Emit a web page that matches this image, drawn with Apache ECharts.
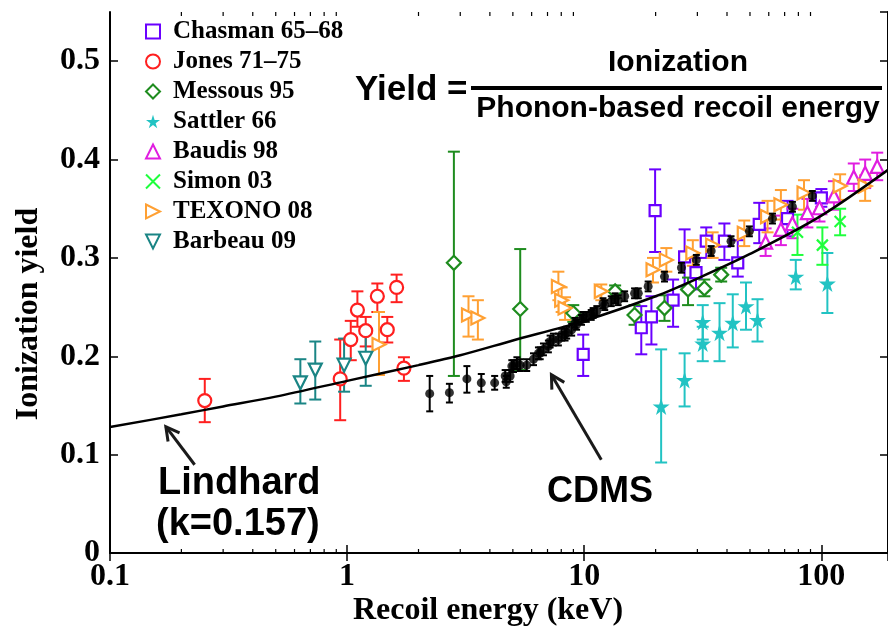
<!DOCTYPE html>
<html><head><meta charset="utf-8">
<script src="https://cdn.jsdelivr.net/npm/echarts@6/dist/echarts.min.js"></script>
<style>html,body{margin:0;padding:0;background:#fff}#c{width:888px;height:634px}</style>
</head><body><div id="c"></div>
<script>
// rows: [recoil energy keV, yield, error low, error high]
const chasman = [[9.90,0.202,0.180,0.222],[17.4,0.229,0.202,0.251],[19.2,0.240,0.212,0.261],[19.9,0.348,0.306,0.390],[23.7,0.257,0.230,0.278],[26.5,0.301,0.271,0.329],[29.6,0.285,0.268,0.300],[32.7,0.317,0.300,0.331],[39.0,0.317,0.298,0.335],[44.4,0.295,0.281,0.318],[54.7,0.334,0.315,0.356],[72.0,0.340,0.322,0.358],[100,0.361,0.352,0.370]];
const jones = [[0.251,0.155,0.133,0.177],[0.935,0.177,0.135,0.217],[1.036,0.217,0.196,0.236],[1.105,0.247,0.230,0.266],[1.198,0.226,0.210,0.240],[1.341,0.261,0.245,0.274],[1.477,0.227,0.214,0.240],[1.617,0.270,0.255,0.283],[1.736,0.188,0.175,0.199]];
const messous = [[2.82,0.295,0.180,0.408],[5.37,0.248,0.186,0.309],[8.99,0.244,0.235,0.252],[13.5,0.266,0.259,0.272],[16.3,0.242,0.232,0.252],[21.8,0.249,0.236,0.262],[27.4,0.268,0.252,0.280],[32.1,0.269,0.261,0.278],[37.8,0.283,0.276,0.290]];
const sattler = [[21.1,0.149,0.092,0.207],[26.5,0.176,0.149,0.203],[31.6,0.235,0.217,0.252],[31.6,0.213,0.195,0.230],[37.2,0.224,0.195,0.254],[42.3,0.234,0.209,0.263],[48.1,0.251,0.227,0.275],[53.8,0.237,0.215,0.258],[78.0,0.281,0.268,0.298],[106,0.274,0.244,0.305]];
const baudis = [[58.2,0.316,0.302,0.330],[67.5,0.329,0.313,0.343],[75.5,0.335,0.320,0.350],[87.3,0.346,0.331,0.360],[98.2,0.351,0.337,0.366],[113,0.363,0.349,0.378],[137,0.382,0.368,0.396],[153,0.386,0.371,0.400],[172,0.393,0.379,0.407]];
const simon = [[79.3,0.326,0.303,0.344],[101,0.313,0.293,0.331],[120,0.337,0.323,0.350]];
const texono = [[1.363,0.212,0.181,0.245],[3.25,0.242,0.220,0.261],[3.56,0.239,0.217,0.257],[7.78,0.271,0.257,0.286],[8.03,0.257,0.245,0.270],[8.30,0.249,0.237,0.260],[11.8,0.266,0.257,0.273],[19.5,0.288,0.275,0.300],[22.2,0.298,0.286,0.310],[28.7,0.305,0.292,0.318],[34.8,0.313,0.300,0.326],[47.3,0.325,0.312,0.338],[59.3,0.342,0.326,0.358],[67.5,0.354,0.339,0.369],[84.5,0.366,0.349,0.379],[120,0.373,0.359,0.385],[153,0.373,0.358,0.384]];
const barbeau = [[0.635,0.173,0.152,0.197],[0.734,0.186,0.156,0.215],[0.971,0.191,0.164,0.218],[1.198,0.198,0.170,0.223]];
const cdms = [[2.23,0.162,0.144,0.180],[2.70,0.163,0.153,0.172],[3.20,0.177,0.163,0.190],[3.68,0.173,0.164,0.182],[4.19,0.173,0.166,0.180],[4.64,0.180,0.174,0.186],[4.69,0.174,0.168,0.180],[4.87,0.180,0.174,0.186],[4.95,0.190,0.184,0.196],[5.03,0.190,0.184,0.196],[5.20,0.193,0.187,0.199],[5.37,0.191,0.185,0.197],[5.72,0.191,0.185,0.197],[6.11,0.197,0.191,0.203],[6.41,0.203,0.197,0.209],[6.52,0.203,0.197,0.209],[6.73,0.207,0.201,0.213],[7.06,0.210,0.204,0.216],[7.18,0.215,0.209,0.221],[7.41,0.217,0.211,0.223],[7.78,0.217,0.211,0.223],[8.03,0.222,0.216,0.228],[8.30,0.222,0.216,0.228],[8.43,0.224,0.218,0.230],[8.85,0.227,0.221,0.233],[9.14,0.234,0.229,0.239],[9.28,0.232,0.227,0.237],[9.74,0.237,0.232,0.242],[9.90,0.240,0.235,0.245],[10.2,0.240,0.235,0.245],[10.7,0.242,0.237,0.247],[10.9,0.244,0.239,0.249],[11.3,0.246,0.241,0.251],[12.0,0.254,0.249,0.259],[12.2,0.252,0.247,0.257],[13.0,0.256,0.251,0.261],[13.5,0.259,0.254,0.264],[13.9,0.257,0.252,0.262],[14.8,0.261,0.256,0.266],[16.3,0.264,0.259,0.269],[16.9,0.264,0.259,0.269],[18.6,0.271,0.266,0.276],[21.8,0.281,0.276,0.286],[25.7,0.290,0.285,0.295],[29.7,0.298,0.293,0.303],[34.3,0.307,0.302,0.312],[41.6,0.317,0.312,0.322],[49.7,0.327,0.322,0.332],[62.2,0.340,0.335,0.345],[75.5,0.352,0.347,0.357],[91.6,0.363,0.358,0.368]];
const lindhardE = [0.1,0.2,0.3,0.5,1,2,3,5,10,20,30,50,100,200];
const lindhardY = [0.128,0.141,0.149,0.159,0.175,0.191,0.201,0.216,0.236,0.261,0.279,0.304,0.343,0.393];
const xTickLabels = [0.1, 1, 10, 100];
const minorMultipliers = [2,3,4,5,6,7,8,9];
const minorDecades = [0.1, 1, 10, 100];
// arrows: [tailE, tailY, tipE, tipY]
const arrows = [[0.2275,0.0897,0.172,0.1284],[11.8,0.0948,7.27,0.1813]];

const STAR = 'path://M50,0 L61,35 L98,35 L68,57 L79,91 L50,70 L21,91 L32,57 L2,35 L39,35 Z';
const XPATH = 'path://M0,0 L10,10 M10,0 L0,10';
const RTRI = 'path://M0,0 L10,5 L0,10 Z';
const DTRI = 'path://M0,0 L10,0 L5,10 Z';

const defs = [
  {name:'Chasman 65–68', data:chasman, color:'#6a00ff', symbol:'rect', size:11, fill:'#fff'},
  {name:'Jones 71–75', data:jones, color:'#ff1f1f', symbol:'circle', size:13, fill:'#fff'},
  {name:'Messous 95', data:messous, color:'#1e8c1e', symbol:'diamond', size:14, fill:'#fff'},
  {name:'Sattler 66', data:sattler, color:'#22c3c3', symbol:STAR, size:17, fill:null},
  {name:'Baudis 98', data:baudis, color:'#e01ee0', symbol:'triangle', size:13, fill:'#fff'},
  {name:'Simon 03', data:simon, color:'#1eff3c', symbol:XPATH, size:11, fill:'rgba(0,0,0,0)'},
  {name:'TEXONO 08', data:texono, color:'#ffa033', symbol:RTRI, size:13, fill:'#fff'},
  {name:'Barbeau 09', data:barbeau, color:'#1a8585', symbol:DTRI, size:13, fill:'#fff'}
];

function errSeries(name, data, color, cap, z) {
  return {
    type:'custom', name:name, data:data, z:z, silent:true, clip:true,
    encode:{x:0, y:[2,3]},
    renderItem:function(params, api){
      const x = api.value(0), lo = api.value(2), hi = api.value(3);
      if (!(hi > lo)) return null;
      const a = api.coord([x, lo]), b = api.coord([x, hi]);
      const st = {stroke:color, lineWidth:2};
      return {type:'group', children:[
        {type:'line', shape:{x1:a[0],y1:a[1],x2:b[0],y2:b[1]}, style:st},
        {type:'line', shape:{x1:a[0]-cap/2,y1:a[1],x2:a[0]+cap/2,y2:a[1]}, style:st},
        {type:'line', shape:{x1:b[0]-cap/2,y1:b[1],x2:b[0]+cap/2,y2:b[1]}, style:st}
      ]};
    }
  };
}

const series = [];
defs.forEach(function(d){
  series.push(errSeries(d.name+' err', d.data, d.color, 12, 2));
  series.push({
    type:'scatter', name:d.name, z:3,
    data:d.data.map(function(r){return [r[0], r[1]];}),
    symbol:d.symbol, symbolSize:d.size,
    itemStyle:{color: d.fill === null ? d.color : d.fill, borderColor:d.color, borderWidth: d.fill === null ? 0 : 2.2, opacity:1}
  });
});
series.push({
  type:'line', name:'Lindhard', z:5, smooth:0.3, showSymbol:false, symbol:'none',
  data: lindhardE.map(function(e,i){return [e, lindhardY[i]];}),
  lineStyle:{color:'#000', width:2.5}
});
series.push(errSeries('CDMS err', cdms, '#000', 7, 6));
series.push({
  type:'scatter', name:'CDMS', z:6,
  data:cdms.map(function(r){return [r[0], r[1]];}),
  symbol:'circle', symbolSize:9, itemStyle:{color:'#000'}
});
// minor ticks on log axis (bottom and top frame)
const minorVals = [];
minorDecades.forEach(function(d){ minorMultipliers.forEach(function(m){ minorVals.push(d*m); }); });
series.push({
  type:'custom', name:'minorTicks', silent:true, clip:false, z:10,
  data: minorVals.map(function(v){return [v];}),
  encode:{x:0},
  renderItem:function(params, api){
    const v = api.value(0);
    if (v > 191) return null;
    const b = api.coord([v, 0]), t = api.coord([v, 0.55]);
    const st = {stroke:'#000', lineWidth:1.2};
    return {type:'group', children:[
      {type:'line', shape:{x1:b[0],y1:b[1],x2:b[0],y2:b[1]-4}, style:st},
      {type:'line', shape:{x1:t[0],y1:t[1],x2:t[0],y2:t[1]+4}, style:st}
    ]};
  }
});
series.push({
  type:'custom', name:'arrows', silent:true, clip:false, z:8,
  data:arrows, encode:{x:[0,2], y:[1,3]},
  renderItem:function(params, api){
    const a = api.coord([api.value(0), api.value(1)]);
    const b = api.coord([api.value(2), api.value(3)]);
    const ang = Math.atan2(a[1]-b[1], a[0]-b[0]);
    const L = 15, da = 0.5;
    const h1 = [b[0]+L*Math.cos(ang+da), b[1]+L*Math.sin(ang+da)];
    const h2 = [b[0]+L*Math.cos(ang-da), b[1]+L*Math.sin(ang-da)];
    const st = {stroke:'#1a1a1a', lineWidth:3, fill:null};
    return {type:'group', children:[
      {type:'line', shape:{x1:a[0],y1:a[1],x2:b[0],y2:b[1]}, style:st},
      {type:'polyline', shape:{points:[h1,b,h2]}, style:st}
    ]};
  }
});

const serif = '"Liberation Serif", "Times New Roman", serif';
const sans = '"Liberation Sans", Arial, sans-serif';
const axisLabelStyle = {fontFamily:serif, fontWeight:'bold', fontSize:32, color:'#000'};

const option = {
  animation:false,
  backgroundColor:'#fff',
  grid:{left:110, right:-3, top:12, bottom:81, containLabel:false},
  legend:{
    data: defs.map(function(d){return d.name;}),
    orient:'vertical', left:140, top:14, itemWidth:14, itemHeight:14, itemGap:5,
    textStyle:{fontFamily:serif, fontWeight:'bold', fontSize:25, lineHeight:24, color:'#000', padding:[0,0,0,8]},
    selectedMode:false
  },
  xAxis:[{
    type:'log', logBase:10, min:0.1, max:191, position:'bottom',
    axisLine:{show:true, lineStyle:{color:'#000', width:2}},
    axisTick:{show:true, inside:true, length:8, lineStyle:{color:'#000', width:1.5}},
    axisLabel:Object.assign({margin:8, showMaxLabel:false, formatter:function(v){
      const hit = xTickLabels.find(function(t){return Math.abs(t - v)/t < 1e-6;});
      return hit === undefined ? '' : String(hit);
    }}, axisLabelStyle),
    splitLine:{show:false}, minorTick:{show:false}
  },{
    type:'log', logBase:10, min:0.1, max:191, position:'top',
    axisLine:{show:true, lineStyle:{color:'#000', width:2}},
    axisTick:{show:true, inside:true, length:8, lineStyle:{color:'#000', width:1.5}},
    axisLabel:{show:false}, splitLine:{show:false}
  }],
  yAxis:[{
    type:'value', min:0, max:0.55, interval:0.1,
    axisLine:{show:true, lineStyle:{color:'#000', width:2}},
    axisTick:{show:true, inside:true, length:8, lineStyle:{color:'#000', width:1.5}},
    axisLabel:Object.assign({margin:10, showMaxLabel:false, formatter:function(v){return v===0?'0':v.toFixed(1);}}, axisLabelStyle),
    splitLine:{show:false}
  },{
    type:'value', min:0, max:0.55, interval:0.1, position:'right',
    axisLine:{show:true, lineStyle:{color:'#000', width:2}},
    axisTick:{show:true, inside:true, length:8, lineStyle:{color:'#000', width:1.5}},
    axisLabel:{show:false}, splitLine:{show:false}
  }],
  graphic:[
    {type:'text', x:29, y:314, rotation:Math.PI/2, z:20, style:{text:'Ionization yield', font:'bold 32px '+serif, fill:'#000', align:'center', verticalAlign:'middle'}},
    {type:'text', x:488, y:611, z:20, style:{text:'Recoil energy (keV)', font:'bold 32px '+serif, fill:'#000', align:'center', verticalAlign:'middle'}},
    {type:'text', x:355, y:90, z:20, style:{text:'Yield =', font:'bold 35px '+sans, fill:'#000', align:'left', verticalAlign:'middle'}},
    {type:'text', x:678, y:63, z:20, style:{text:'Ionization', font:'bold 30px '+sans, fill:'#000', align:'center', verticalAlign:'middle'}},
    {type:'rect', z:20, shape:{x:471, y:86, width:411, height:4}, style:{fill:'#000'}},
    {type:'text', x:678, y:109, z:20, style:{text:'Phonon-based recoil energy', font:'bold 30px '+sans, fill:'#000', align:'center', verticalAlign:'middle'}},
    {type:'text', x:158, y:484, z:20, style:{text:'Lindhard', font:'bold 38px '+sans, fill:'#000', align:'left', verticalAlign:'middle'}},
    {type:'text', x:156, y:525, z:20, style:{text:'(k=0.157)', font:'bold 38px '+sans, fill:'#000', align:'left', verticalAlign:'middle'}},
    {type:'text', x:547, y:492, z:20, style:{text:'CDMS', font:'bold 36px '+sans, fill:'#000', align:'left', verticalAlign:'middle'}}
  ],
  series: series
};
series.forEach(function(s){ s.xAxisIndex = 0; s.yAxisIndex = 0; });
const chart = echarts.init(document.getElementById('c'));
chart.setOption(option);
</script></body></html>
